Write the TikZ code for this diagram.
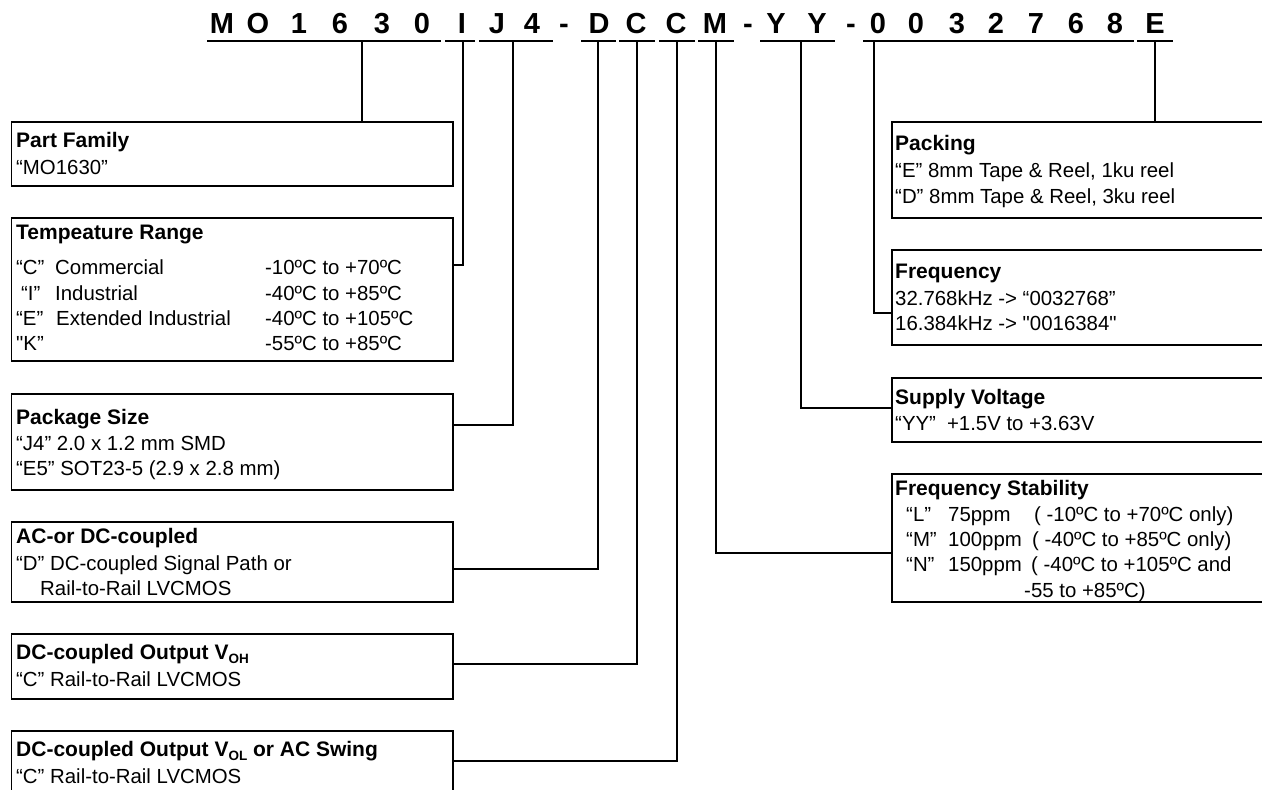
\documentclass[tikz,border=0pt]{standalone}
\usepackage{fontspec}
\setmainfont{Liberation Sans}[Ligatures=TeXOff]
\newcommand{\subsc}[1]{\raisebox{-4pt}{\fontsize{13.5}{13.5}\selectfont #1}}
\begin{document}
\begin{tikzpicture}[x=1pt,y=-1pt,
  ln/.style={line width=1.6pt},
  box/.style={draw,line width=1.6pt,anchor=north west,inner sep=0pt},
  tx/.style={anchor=base west,inner sep=0pt,font=\fontsize{20.4}{24}\selectfont},
  hd/.style={anchor=base west,inner sep=0pt,font=\fontsize{21}{24}\selectfont\bfseries},
  pn/.style={anchor=base,inner sep=0pt,font=\fontsize{29}{29}\selectfont\bfseries}]
\useasboundingbox (0,0) rectangle (1262,790);
\begin{scope}
\clip (0,0) rectangle (1262,790);
% part number
\node[pn] (c1) at (222,33) {M};
\node[pn] (c2) at (258,33) {O};
\node[pn] (c3) at (299,33) {1};
\node[pn] (c4) at (340,33) {6};
\node[pn] (c5) at (382,33) {3};
\node[pn] (c6) at (422,33) {0};
\node[pn] (c7) at (462,33) {I};
\node[pn] (c8) at (497,33) {J};
\node[pn] (c9) at (532,33) {4};
\node[pn] (c10) at (564,33) {-};
\node[pn] (c11) at (599,33) {D};
\node[pn] (c12) at (636,33) {C};
\node[pn] (c13) at (676,33) {C};
\node[pn] (c14) at (715,33) {M};
\node[pn] (c15) at (748,33) {-};
\node[pn] (c16) at (776,33) {Y};
\node[pn] (c17) at (817,33) {Y};
\node[pn] (c18) at (851,33) {-};
\node[pn] (c19) at (878,33) {0};
\node[pn] (c20) at (916,33) {0};
\node[pn] (c21) at (957,33) {3};
\node[pn] (c22) at (996,33) {2};
\node[pn] (c23) at (1036,33) {7};
\node[pn] (c24) at (1076,33) {6};
\node[pn] (c25) at (1115,33) {8};
\node[pn] (c26) at (1155,33) {E};
% underlines
\foreach \a/\b in {207/441,445/475,479/553,581/616,619/655,659/695,698/734,760/835,863/1134,1137/1173}
  \draw[ln] (\a,40.7) -- (\b,40.7);
% tick coordinates
\coordinate (tPF) at (362,40.7);
\coordinate (tI) at (463,40.7);
\coordinate (tJ) at (513,40.7);
\coordinate (tD) at (598,40.7);
\coordinate (tC1) at (637,40.7);
\coordinate (tC2) at (677,40.7);
\coordinate (tM) at (716,40.7);
\coordinate (tY) at (801,40.7);
\coordinate (tF) at (874,40.7);
\coordinate (tE) at (1155,40.7);
% left boxes
\node[box,minimum width=441.5pt,minimum height=64pt] (pf) at (10.5,121) {};
\node[box,minimum width=441.5pt,minimum height=143pt] (temp) at (10.5,217) {};
\node[box,minimum width=441.5pt,minimum height=96pt] (pkg) at (10.5,393) {};
\node[box,minimum width=441.5pt,minimum height=80pt] (ac) at (10.5,521) {};
\node[box,minimum width=441.5pt,minimum height=65pt] (voh) at (10.5,633) {};
\node[box,minimum width=441.5pt,minimum height=66pt] (vol) at (10.5,730) {};
% right boxes
\node[box,minimum width=420pt,minimum height=96pt] (pack) at (891,121) {};
\node[box,minimum width=420pt,minimum height=95pt] (freq) at (891,249) {};
\node[box,minimum width=420pt,minimum height=64pt] (sup) at (891,377) {};
\node[box,minimum width=420pt,minimum height=128pt] (stab) at (891,473) {};
% connectors
\draw[ln] (tPF) -- (tPF |- pf.north);
\draw[ln] (tI) |- ([yshift=-48pt]temp.north east);
\draw[ln] (tJ) |- ([yshift=-32pt]pkg.north east);
\draw[ln] (tD) |- ([yshift=-48pt]ac.north east);
\draw[ln] (tC1) |- ([yshift=-31pt]voh.north east);
\draw[ln] (tC2) |- ([yshift=-31pt]vol.north east);
\draw[ln] (tM) |- ([yshift=-80pt]stab.north west);
\draw[ln] (tY) |- ([yshift=-31pt]sup.north west);
\draw[ln] (tF) |- ([yshift=-64pt]freq.north west);
\draw[ln] (tE) -- (tE |- pack.north);
% left texts
\node[hd] (pf1) at (16,147) {Part Family};
\node[tx] (pf2) at (16,174) {“MO1630”};
\node[hd] (te1) at (16,239) {Tempeature Range};
\node[tx] (te2a) at (16,274) {“C”};
\node[tx] (te2b) at (55,274) {Commercial};
\node[tx] (te2c) at (265,274) {-10ºC to +70ºC};
\node[tx] (te3a) at (21,300) {“I”};
\node[tx] (te3b) at (55,300) {Industrial};
\node[tx] (te3c) at (265,300) {-40ºC to +85ºC};
\node[tx] (te4a) at (16,325) {“E”};
\node[tx] (te4b) at (56,325) {Extended Industrial};
\node[tx] (te4c) at (265,325) {-40ºC to +105ºC};
\node[tx] (te5a) at (16,350) {"K”};
\node[tx] (te5c) at (265,350) {-55ºC to +85ºC};
\node[hd] (pk1) at (16,424) {Package Size};
\node[tx] (pk2) at (16,450) {“J4” 2.0 x 1.2 mm SMD};
\node[tx] (pk3) at (16,475) {“E5” SOT23-5 (2.9 x 2.8 mm)};
\node[hd] (ac1) at (16,543) {AC-or DC-coupled};
\node[tx] (ac2) at (16,570) {“D” DC-coupled Signal Path or};
\node[tx] (ac3) at (40,595) {Rail-to-Rail LVCMOS};
\node[hd] (vh1) at (16,659) {DC-coupled Output V\subsc{OH}};
\node[tx] (vh2) at (16,686) {“C” Rail-to-Rail LVCMOS};
\node[hd] (vl1) at (16,756) {DC-coupled Output V\subsc{OL} or AC Swing};
\node[tx] (vl2) at (16,783) {“C” Rail-to-Rail LVCMOS};
% right texts
\node[hd] (pa1) at (895,150) {Packing};
\node[tx] (pa2) at (895,177) {“E” 8mm Tape \& Reel, 1ku reel};
\node[tx] (pa3) at (895,203) {“D” 8mm Tape \& Reel, 3ku reel};
\node[hd] (fr1) at (895,278) {Frequency};
\node[tx] (fr2) at (895,305) {32.768kHz -> “0032768”};
\node[tx] (fr3) at (895,330) {16.384kHz -> "0016384"};
\node[hd] (su1) at (895,404) {Supply Voltage};
\node[tx] (su2) at (895,430) {“YY”\hspace{11pt}+1.5V to +3.63V};
\node[hd] (st1) at (895,495) {Frequency Stability};
\node[tx] (st2a) at (906,521) {“L”};
\node[tx] (st2b) at (948,521) {75ppm};
\node[tx] (st2c) at (1034,521) {( -10ºC to +70ºC only)};
\node[tx] (st3a) at (906,546) {“M”};
\node[tx] (st3b) at (948,546) {100ppm};
\node[tx] (st3c) at (1032,546) {( -40ºC to +85ºC only)};
\node[tx] (st4a) at (906,571) {“N”};
\node[tx] (st4b) at (948,571) {150ppm};
\node[tx] (st4c) at (1031,571) {( -40ºC to +105ºC and};
\node[tx] (st5) at (1024,597) {-55 to +85ºC)};
\end{scope}
\end{tikzpicture}
\end{document}
